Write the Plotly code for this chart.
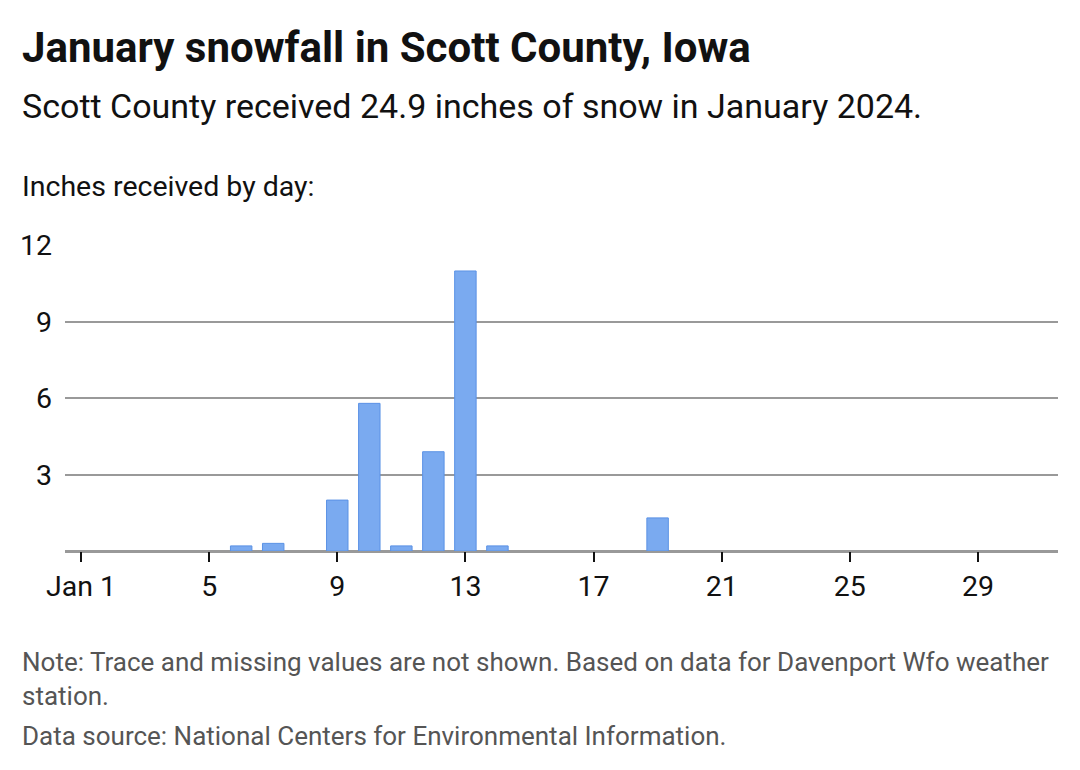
import plotly.graph_objects as go

days = [6, 7, 9, 10, 11, 12, 13, 14, 19]
snow = [0.2, 0.3, 2.0, 5.8, 0.2, 3.9, 11.0, 0.2, 1.3]
xticks = [1, 5, 9, 13, 17, 21, 25, 29]
xlabels = ["Jan 1", "5", "9", "13", "17", "21", "25", "29"]
yticks = [3, 6, 9, 12]

O = 8  # page offset
L, R, T, B = 65 - O, 30, 245 - O, 770 - (551 - O)
W, H = 1080, 770
pw, ph = W - L - R, H - T - B

def px(x): return (x - O - L) / pw
def py(y): return (H - B - (y - O)) / ph

fig = go.Figure(go.Bar(x=days, y=snow, marker=dict(color="#7aaaf0", line=dict(color="#5b92e5", width=1))))

ann = [
    ("<b>January snowfall in Scott County, Iowa</b>", 47, 42, "#111"),
    ("Scott County received 24.9 inches of snow in January 2024.", 106, 34, "#111"),
    ("Inches received by day:", 186, 28.5, "#111"),
    ("Note: Trace and missing values are not shown. Based on data for Davenport Wfo weather<br>station.", 679, 26, "#555"),
    ("Data source: National Centers for Environmental Information.", 736, 26, "#555"),
]
annotations = [dict(text=t, x=px(20), y=py(y), xref="paper", yref="paper", xanchor="left", yanchor="middle",
                    showarrow=False, align="left", font=dict(size=s, color=c, family="Roboto")) for t, y, s, c in ann]

fig.update_layout(
    width=W, height=H, margin=dict(l=L, r=R, t=T, b=B),
    plot_bgcolor="white", paper_bgcolor="white", bargap=0.33, showlegend=False,
    font=dict(family="Roboto", size=28.5, color="#111"),
    annotations=annotations,
    xaxis=dict(range=[0.5, 31.5], tickvals=xticks, ticktext=xlabels, ticks="outside", ticklen=10,
               tickcolor="#111", tickwidth=2, showgrid=False, showline=False, zeroline=False),
    yaxis=dict(range=[0, 12.02], tickvals=yticks, showgrid=True, gridcolor="#999", gridwidth=1.5,
               zeroline=True, zerolinecolor="#999", zerolinewidth=2.5, ticks="", ticklabelstandoff=12),
)
fig.write_html("out.html")
